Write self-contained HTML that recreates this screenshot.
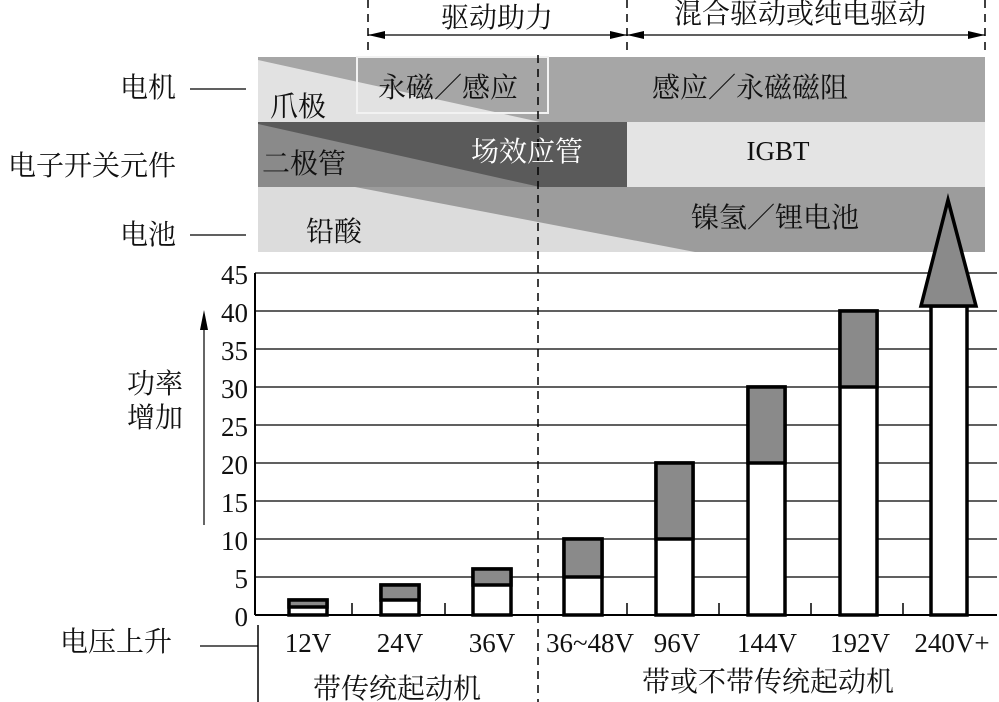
<!DOCTYPE html>
<html><head><meta charset="utf-8"><style>
html,body{margin:0;padding:0;background:#fff;}
svg{display:block;}
.c{font-family:"Liberation Serif","Noto Serif CJK SC","Noto Sans CJK SC",serif;font-size:28px;fill:#111;}
.n{font-family:"Liberation Serif",serif;font-size:27px;fill:#111;}
</style></head><body>
<svg width="999" height="702" viewBox="0 0 999 702" xmlns="http://www.w3.org/2000/svg">
<rect x="258" y="57" width="727" height="65" fill="#a6a6a6"/>
<polygon points="258,60 540,122 258,122" fill="#e2e2e2"/>
<rect x="357" y="57" width="191" height="56" fill="none" stroke="#f2f2f2" stroke-width="2"/>
<rect x="258" y="122" width="369" height="65" fill="#5a5a5a"/>
<polygon points="258,124 540,187 258,187" fill="#8a8a8a"/>
<rect x="627" y="122" width="358" height="65" fill="#e4e4e4"/>
<rect x="258" y="187" width="727" height="65" fill="#9c9c9c"/>
<polygon points="258,187 355,187 695,252 258,252" fill="#dcdcdc"/>
<g stroke="#000" stroke-width="1.5" stroke-dasharray="8,6">
<line x1="368" y1="0" x2="368" y2="55"/>
<line x1="627" y1="0" x2="627" y2="55"/>
<line x1="985" y1="0" x2="985" y2="55"/>
<line x1="538" y1="55" x2="538" y2="702"/>
</g>
<g stroke="#000" stroke-width="1.2"><line x1="368" y1="35" x2="985" y2="35"/></g>
<g fill="#000">
<polygon points="368,35 385,31 385,39"/><polygon points="627,35 610,31 610,39"/>
<polygon points="627,35 644,31 644,39"/><polygon points="985,35 968,31 968,39"/>
</g>
<text class="c" x="497" y="27" text-anchor="middle">驱动助力</text>
<text class="c" x="800" y="23" text-anchor="middle">混合驱动或纯电驱动</text>
<text class="c" x="448" y="97" text-anchor="middle">永磁／感应</text>
<text class="c" x="270" y="116">爪极</text>
<text class="c" x="750" y="97" text-anchor="middle">感应／永磁磁阻</text>
<text class="c" x="262" y="173">二极管</text>
<text class="c" x="527" y="161" text-anchor="middle" style="fill:#fff">场效应管</text>
<text class="n" x="778" y="160" text-anchor="middle">IGBT</text>
<text class="c" x="306" y="241">铅酸</text>
<text class="c" x="775" y="227" text-anchor="middle">镍氢／锂电池</text>
<text class="c" x="176" y="97" text-anchor="end">电机</text>
<line x1="190" y1="89" x2="246" y2="89" stroke="#000" stroke-width="1.2"/>
<text class="c" x="176" y="175" text-anchor="end">电子开关元件</text>
<text class="c" x="176" y="244" text-anchor="end">电池</text>
<line x1="190" y1="235" x2="246" y2="235" stroke="#000" stroke-width="1.2"/>
<text class="c" x="127" y="393">功率</text>
<text class="c" x="127" y="427">增加</text>
<line x1="204" y1="525" x2="204" y2="318" stroke="#000" stroke-width="1.2"/>
<polygon points="204,310 200,330 208,330" fill="#000"/>
<text class="c" x="172" y="651" text-anchor="end">电压上升</text>
<line x1="200" y1="646" x2="258" y2="646" stroke="#000" stroke-width="1.2"/>
<g stroke="#000" stroke-width="1.2">
<line x1="255" y1="273" x2="997" y2="273"/><line x1="255" y1="311" x2="997" y2="311"/>
<line x1="255" y1="349" x2="997" y2="349"/><line x1="255" y1="387" x2="997" y2="387"/>
<line x1="255" y1="425" x2="997" y2="425"/><line x1="255" y1="463" x2="997" y2="463"/>
<line x1="255" y1="501" x2="997" y2="501"/><line x1="255" y1="539" x2="997" y2="539"/>
<line x1="255" y1="577" x2="997" y2="577"/>
</g>
<line x1="255" y1="615" x2="997" y2="615" stroke="#000" stroke-width="2"/>
<line x1="255" y1="273" x2="255" y2="615" stroke="#000" stroke-width="2"/>
<line x1="258" y1="625" x2="258" y2="702" stroke="#000" stroke-width="1.5"/>
<g stroke="#000" stroke-width="1.5">
<line x1="352" y1="603" x2="352" y2="615"/><line x1="445" y1="603" x2="445" y2="615"/>
<line x1="627" y1="603" x2="627" y2="615"/><line x1="719" y1="603" x2="719" y2="615"/>
<line x1="811" y1="603" x2="811" y2="615"/><line x1="903" y1="603" x2="903" y2="615"/>
</g>
<g class="n" text-anchor="end">
<text x="248" y="284">45</text><text x="248" y="322">40</text><text x="248" y="360">35</text>
<text x="248" y="398">30</text><text x="248" y="436">25</text><text x="248" y="474">20</text>
<text x="248" y="512">15</text><text x="248" y="550">10</text><text x="248" y="588">5</text>
<text x="248" y="626">0</text>
</g>
<g stroke="#000" stroke-width="3.5">
<rect x="289" y="600" width="38" height="15" fill="#fff"/><rect x="289" y="600" width="38" height="7" fill="#8a8a8a"/>
<rect x="381" y="585" width="38" height="30" fill="#fff"/><rect x="381" y="585" width="38" height="15" fill="#8a8a8a"/>
<rect x="473" y="569" width="38" height="46" fill="#fff"/><rect x="473" y="569" width="38" height="16" fill="#8a8a8a"/>
<rect x="564" y="539" width="38" height="76" fill="#fff"/><rect x="564" y="539" width="38" height="38" fill="#8a8a8a"/>
<rect x="656" y="463" width="37" height="152" fill="#fff"/><rect x="656" y="463" width="37" height="76" fill="#8a8a8a"/>
<rect x="748" y="387" width="37" height="228" fill="#fff"/><rect x="748" y="387" width="37" height="76" fill="#8a8a8a"/>
<rect x="840" y="311" width="37" height="304" fill="#fff"/><rect x="840" y="311" width="37" height="76" fill="#8a8a8a"/>
<rect x="931" y="306" width="36" height="309" fill="#fff"/>
<polygon points="948,200 921,306 976,306" fill="#8a8a8a"/>
</g>
<g class="n" text-anchor="middle">
<text x="308" y="652">12V</text><text x="400" y="652">24V</text><text x="492" y="652">36V</text>
<text x="590" y="652">36~48V</text><text x="677" y="652">96V</text><text x="767" y="652">144V</text>
<text x="860" y="652">192V</text><text x="952" y="652">240V+</text>
</g>
<text class="c" x="397" y="698" text-anchor="middle">带传统起动机</text>
<text class="c" x="768" y="691" text-anchor="middle">带或不带传统起动机</text>
</svg>
</body></html>
